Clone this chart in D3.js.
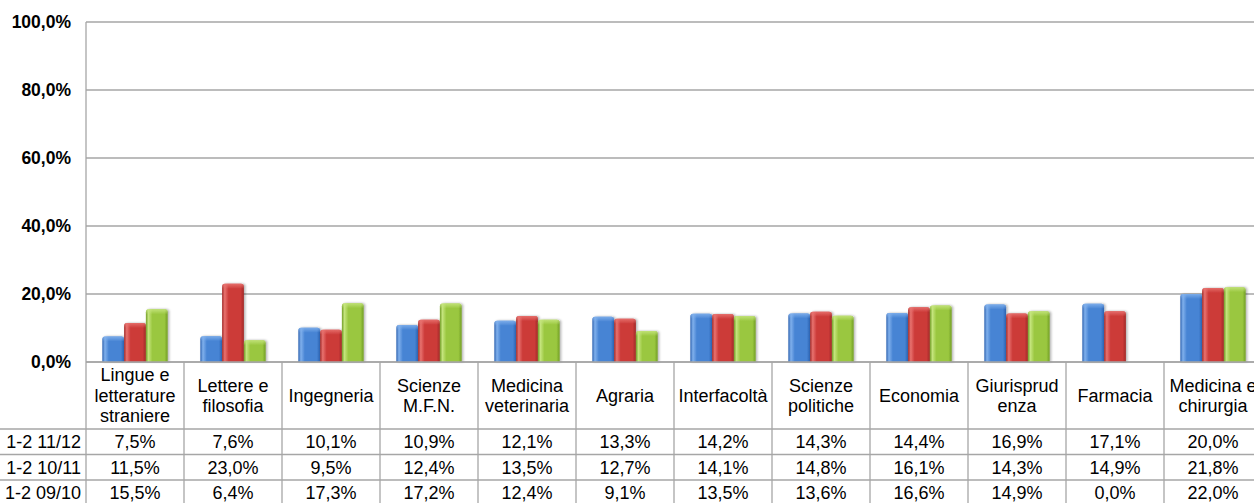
<!DOCTYPE html>
<html lang="it">
<head>
    <meta charset="UTF-8">
    <title>Tassi per facoltà</title>
    <script src="https://d3js.org/d3.v7.min.js"></script>
    <style>
        html, body {
            margin: 0;
            padding: 0;
            background: #FFFFFF;
            overflow: hidden;
        }
        svg { display: block; font-family: 'Liberation Sans', Arial, sans-serif; }
        .grid line { stroke: #A6A6A6; stroke-width: 1.3px; }
        .table-line { stroke: #A6A6A6; stroke-width: 1.3px; }
        .y-axis text { font-size: 17.5px; font-weight: bold; fill: #000; }
        .cell { font-size: 18px; fill: #000; }
    </style>
</head>
<body>
<svg id="chart"></svg>
<script>
    // --- data ---
    const categories = [
        "Lingue e\nletterature\nstraniere", "Lettere e\nfilosofia", "Ingegneria", "Scienze\nM.F.N.",
        "Medicina\nveterinaria", "Agraria", "Interfacoltà", "Scienze\npolitiche",
        "Economia", "Giurisprud\nenza", "Farmacia", "Medicina e\nchirurgia"
    ];
    const seriesNames = ["1-2 11/12", "1-2 10/11", "1-2 09/10"];
    const values1112 = [7.5, 7.6, 10.1, 10.9, 12.1, 13.3, 14.2, 14.3, 14.4, 16.9, 17.1, 20.0];
    const values1011 = [11.5, 23.0, 9.5, 12.4, 13.5, 12.7, 14.1, 14.8, 16.1, 14.3, 14.9, 21.8];
    const values0910 = [15.5, 6.4, 17.3, 17.2, 12.4, 9.1, 13.5, 13.6, 16.6, 14.9, 0.0, 22.0];
    const yTicks = [0, 20, 40, 60, 80, 100];

    const seriesValues = [values1112, values1011, values0910];
    const colors = [
        { dark: "#2C62B0", base: "#4784D4", light: "#80B0EC" },
        { dark: "#A02826", base: "#CC3B39", light: "#E8726F" },
        { dark: "#729E26", base: "#9AC73F", light: "#C4E47C" }
    ];

    // --- layout ---
    const W = 1254, H = 503;
    const plotLeft = 86, colW = 98;
    const plotTop = 22, plotBottom = 362;
    const headerBottom = 429, rowH = 25.5;

    const svg = d3.select("#chart").attr("width", W).attr("height", H);

    const x = d3.scaleBand().domain(d3.range(categories.length))
        .range([plotLeft, plotLeft + colW * categories.length]);
    const xSub = d3.scaleBand().domain(d3.range(seriesNames.length))
        .range([0, x.bandwidth()]).paddingOuter(0.75);
    const y = d3.scaleLinear().domain([0, 100]).range([plotBottom, plotTop]);

    const fmt = v => v.toFixed(1).replace(".", ",") + "%";

    // gradients + shadow
    const defs = svg.append("defs");
    colors.forEach((c, i) => {
        const g = defs.append("linearGradient").attr("id", "grad" + i)
            .attr("x1", 0).attr("x2", 1).attr("y1", 0).attr("y2", 0);
        g.append("stop").attr("offset", "0%").attr("stop-color", c.dark);
        g.append("stop").attr("offset", "12%").attr("stop-color", c.light);
        g.append("stop").attr("offset", "30%").attr("stop-color", c.base);
        g.append("stop").attr("offset", "85%").attr("stop-color", c.base);
        g.append("stop").attr("offset", "100%").attr("stop-color", c.dark);
        const t = defs.append("linearGradient").attr("id", "top" + i)
            .attr("x1", 0).attr("x2", 0).attr("y1", 0).attr("y2", 1);
        t.append("stop").attr("offset", "0%").attr("stop-color", c.light).attr("stop-opacity", 0.9);
        t.append("stop").attr("offset", "100%").attr("stop-color", c.light).attr("stop-opacity", 0);
    });
    const shadow = defs.append("filter").attr("id", "shadow")
        .attr("x", "-20%").attr("y", "-10%").attr("width", "150%").attr("height", "130%");
    shadow.append("feDropShadow").attr("dx", 1.5).attr("dy", 0).attr("stdDeviation", 1.2)
        .attr("flood-color", "#000").attr("flood-opacity", 0.3);

    // gridlines
    svg.append("g").attr("class", "grid")
        .selectAll("line").data(yTicks).join("line")
        .attr("x1", plotLeft).attr("x2", W)
        .attr("y1", d => y(d)).attr("y2", d => y(d));

    // y axis labels
    const yAxis = d3.axisLeft(y).tickValues(yTicks).tickFormat(fmt).tickSize(0).tickPadding(15);
    svg.append("g").attr("class", "y-axis")
        .attr("transform", `translate(${plotLeft},0)`)
        .call(yAxis)
        .call(g => g.select(".domain").remove());

    // bars
    const barPath = (x0, w, yTop, yBot) => {
        const h = yBot - yTop;
        if (h <= 0) return "";
        const r = Math.min(3, h / 2);
        return `M${x0},${yBot} V${yTop + r} Q${x0},${yTop} ${x0 + r},${yTop} H${x0 + w - r} Q${x0 + w},${yTop} ${x0 + w},${yTop + r} V${yBot} Z`;
    };
    seriesValues.forEach((vals, s) => {
        const g = svg.append("g").attr("filter", "url(#shadow)");
        g.selectAll("path.bar").data(vals).join("path")
            .attr("class", "bar")
            .attr("fill", `url(#grad${s})`)
            .attr("d", (d, i) => barPath(x(i) + xSub(s), xSub.bandwidth(), y(d), y(0)));
        g.selectAll("path.hl").data(vals).join("path")
            .attr("class", "hl")
            .attr("fill", `url(#top${s})`)
            .attr("d", (d, i) => barPath(x(i) + xSub(s), xSub.bandwidth(), y(d), Math.min(y(d) + 5, y(0))));
    });

    // data table
    const tableRight = x.range()[1];
    svg.append("line").attr("class", "table-line")
        .attr("x1", plotLeft).attr("x2", tableRight).attr("y1", plotBottom).attr("y2", plotBottom);
    d3.range(seriesNames.length + 1).forEach(r => {
        svg.append("line").attr("class", "table-line")
            .attr("x1", 0).attr("x2", tableRight)
            .attr("y1", headerBottom + r * rowH).attr("y2", headerBottom + r * rowH);
    });
    svg.append("line").attr("class", "table-line")
        .attr("x1", plotLeft).attr("x2", plotLeft).attr("y1", plotTop).attr("y2", H);
    d3.range(1, categories.length + 1).forEach(i => {
        svg.append("line").attr("class", "table-line")
            .attr("x1", plotLeft + i * colW).attr("x2", plotLeft + i * colW)
            .attr("y1", plotBottom).attr("y2", H);
    });

    // header labels
    const headerMid = (plotBottom + headerBottom) / 2;
    const lineH = 20.5;
    categories.forEach((c, i) => {
        const lines = c.split("\n");
        const t = svg.append("text").attr("class", "cell")
            .attr("text-anchor", "middle")
            .attr("x", x(i) + x.bandwidth() / 2);
        lines.forEach((ln, k) => {
            t.append("tspan")
                .attr("x", x(i) + x.bandwidth() / 2)
                .attr("y", headerMid + (k - (lines.length - 1) / 2) * lineH)
                .attr("dy", "0.35em")
                .text(ln);
        });
    });

    // rows
    seriesNames.forEach((name, r) => {
        const cy = headerBottom + r * rowH + rowH / 2;
        svg.append("text").attr("class", "cell")
            .attr("x", 81).attr("y", cy).attr("dy", "0.35em")
            .attr("text-anchor", "end").text(name);
        svg.append("g").selectAll("text").data(seriesValues[r]).join("text")
            .attr("class", "cell")
            .attr("text-anchor", "middle")
            .attr("x", (d, i) => x(i) + x.bandwidth() / 2)
            .attr("y", cy).attr("dy", "0.35em")
            .text(fmt);
    });
</script>
</body>
</html>
